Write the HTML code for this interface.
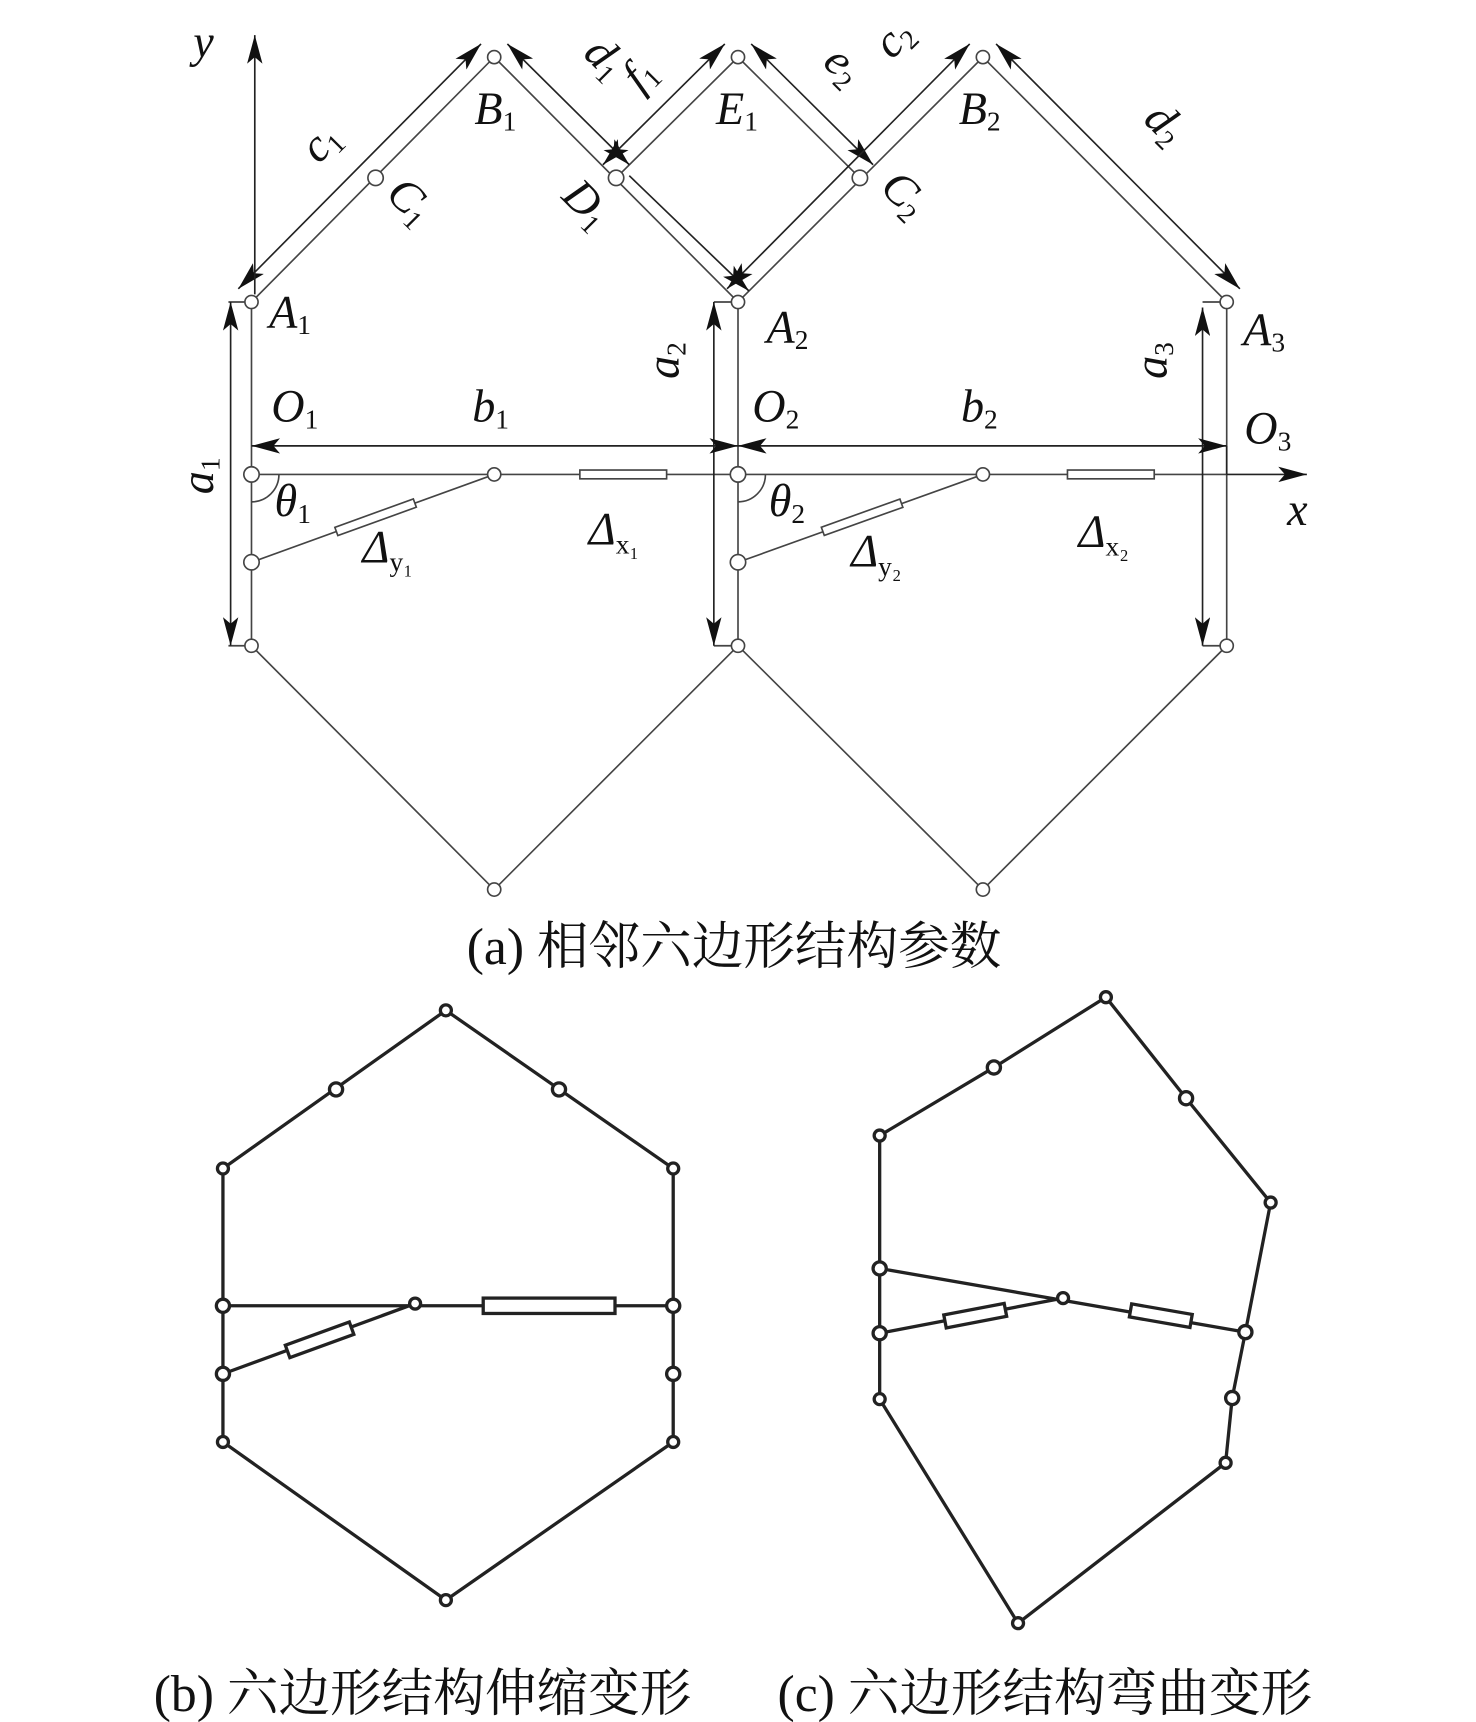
<!DOCTYPE html>
<html><head><meta charset="utf-8"><style>
html,body{margin:0;padding:0;background:#fff}
svg{display:block}
text{font-family:"Liberation Serif","Noto Serif CJK SC",serif;fill:#111}
.it{font-style:italic}
.sub{font-style:normal;font-size:25px}
.cap{font-size:47px}
</style></head><body>
<svg width="1476" height="1722" viewBox="0 0 1344 1568" xmlns="http://www.w3.org/2000/svg">
<defs>
<marker id="ar" viewBox="0 0 26 14" refX="26" refY="7" markerWidth="26" markerHeight="14" markerUnits="userSpaceOnUse" orient="auto-start-reverse">
<path d="M0,0 L26,7 L0,14 L6,7 Z" fill="#111"/></marker>
</defs>
<g fill="none" stroke="#444" stroke-width="1.5">
<polyline points="229,275 450,52 672,275 895,52 1117,275"/>
<polyline points="561,162 672,52 783,162"/>
<line x1="229" y1="275" x2="229" y2="588"/>
<line x1="672" y1="275" x2="672" y2="588"/>
<line x1="1117" y1="275" x2="1117" y2="588"/>
<polyline points="229,588 450,810 672,588 895,810 1117,588"/>
<line x1="229" y1="432" x2="528" y2="432"/>
<line x1="607" y1="432" x2="972" y2="432"/>
<line x1="1051" y1="432" x2="1117" y2="432"/>
<rect x="528" y="428" width="79" height="8"/>
<rect x="972" y="428" width="79" height="8"/>
<line x1="229" y1="512" x2="450" y2="432"/>
<line x1="672" y1="512" x2="895" y2="432"/>
<line x1="208" y1="275" x2="229" y2="275"/><line x1="208" y1="588" x2="229" y2="588"/>
<line x1="650" y1="275" x2="672" y2="275"/><line x1="650" y1="588" x2="672" y2="588"/>
<line x1="1095" y1="275" x2="1117" y2="275"/><line x1="1095" y1="588" x2="1117" y2="588"/>
<path d="M229,432 m0,25 a25,25 0 0 0 25,-25"/>
<path d="M672,432 m0,25 a25,25 0 0 0 25,-25"/>
</g>
<g fill="#fff" stroke="#444" stroke-width="1.5">
<rect x="-38" y="-4" width="76" height="8" transform="translate(342,471) rotate(-19.9)"/>
<rect x="-38" y="-4" width="76" height="8" transform="translate(785,471) rotate(-19.7)"/>
</g>
<g stroke="#222" stroke-width="1.5" fill="none">
<line x1="217" y1="263" x2="438" y2="40" marker-start="url(#ar)" marker-end="url(#ar)"/>
<line x1="462" y1="40" x2="573" y2="150" marker-start="url(#ar)" marker-end="url(#ar)"/>
<line x1="549" y1="150" x2="660" y2="40" marker-start="url(#ar)" marker-end="url(#ar)"/>
<line x1="684" y1="40" x2="795" y2="150" marker-start="url(#ar)" marker-end="url(#ar)"/>
<line x1="662" y1="263" x2="883" y2="40" marker-start="url(#ar)" marker-end="url(#ar)"/>
<line x1="573" y1="160" x2="682" y2="265" marker-end="url(#ar)"/>
<line x1="907" y1="40" x2="1129" y2="263" marker-start="url(#ar)" marker-end="url(#ar)"/>
<line x1="210" y1="275" x2="210" y2="588" marker-start="url(#ar)" marker-end="url(#ar)"/>
<line x1="650" y1="275" x2="650" y2="588" marker-start="url(#ar)" marker-end="url(#ar)"/>
<line x1="1095" y1="280" x2="1095" y2="588" marker-start="url(#ar)" marker-end="url(#ar)"/>
<line x1="229" y1="406" x2="672" y2="406" marker-start="url(#ar)" marker-end="url(#ar)"/>
<line x1="672" y1="406" x2="1117" y2="406" marker-start="url(#ar)" marker-end="url(#ar)"/>
<line x1="1117" y1="406" x2="1117" y2="432"/>
<line x1="1117" y1="432" x2="1190" y2="432" marker-end="url(#ar)"/>
<line x1="232" y1="268" x2="232" y2="32" marker-end="url(#ar)"/>
</g>
<g fill="#fff" stroke="#444" stroke-width="1.5">
<circle cx="229" cy="275" r="6"/><circle cx="672" cy="275" r="6"/><circle cx="1117" cy="275" r="6"/>
<circle cx="450" cy="52" r="6"/><circle cx="672" cy="52" r="6"/><circle cx="895" cy="52" r="6"/>
<circle cx="342" cy="162" r="7"/><circle cx="561" cy="162" r="7"/><circle cx="783" cy="162" r="7"/>
<circle cx="229" cy="432" r="7"/><circle cx="450" cy="432" r="6"/><circle cx="229" cy="512" r="7"/>
<circle cx="672" cy="432" r="7"/><circle cx="895" cy="432" r="6"/><circle cx="672" cy="512" r="7"/>
<circle cx="229" cy="588" r="6"/><circle cx="672" cy="588" r="6"/><circle cx="1117" cy="588" r="6"/>
<circle cx="450" cy="810" r="6"/><circle cx="895" cy="810" r="6"/>
</g>
<g font-size="42">
<text class="it" x="176" y="52">y</text>
<text class="it" x="432" y="113">B<tspan class="sub" dy="6">1</tspan></text>
<text class="it" x="652" y="113">E<tspan class="sub" dy="6">1</tspan></text>
<text class="it" x="873" y="113">B<tspan class="sub" dy="6">2</tspan></text>
<text class="it" transform="translate(290,150) rotate(-45)">c<tspan class="sub" dy="6">1</tspan></text>
<text class="it" transform="translate(350,178) rotate(45)">C<tspan class="sub" dy="6">1</tspan></text>
<text class="it" transform="translate(510,180) rotate(45)">D<tspan class="sub" dy="6">1</tspan></text>
<text class="it" transform="translate(530,50) rotate(45)">d<tspan class="sub" dy="6">1</tspan></text>
<text class="it" transform="translate(583,85) rotate(-45)">f<tspan class="sub" dy="6">1</tspan></text>
<text class="it" transform="translate(748,58) rotate(45)">e<tspan class="sub" dy="6">2</tspan></text>
<text class="it" transform="translate(812,55) rotate(-45)">c<tspan class="sub" dy="6">2</tspan></text>
<text class="it" transform="translate(800,172) rotate(45)">C<tspan class="sub" dy="6">2</tspan></text>
<text class="it" transform="translate(1040,110) rotate(45)">d<tspan class="sub" dy="6">2</tspan></text>
<text class="it" x="245" y="298">A<tspan class="sub" dy="6">1</tspan></text>
<text class="it" x="698" y="312">A<tspan class="sub" dy="6">2</tspan></text>
<text class="it" x="1132" y="314">A<tspan class="sub" dy="6">3</tspan></text>
<text class="it" transform="translate(618,345) rotate(-90)">a<tspan class="sub" dy="6">2</tspan></text>
<text class="it" transform="translate(1062,345) rotate(-90)">a<tspan class="sub" dy="6">3</tspan></text>
<text class="it" transform="translate(194,450) rotate(-90)">a<tspan class="sub" dy="6">1</tspan></text>
<text class="it" x="247" y="384">O<tspan class="sub" dy="6">1</tspan></text>
<text class="it" x="430" y="384">b<tspan class="sub" dy="6">1</tspan></text>
<text class="it" x="685" y="384">O<tspan class="sub" dy="6">2</tspan></text>
<text class="it" x="875" y="384">b<tspan class="sub" dy="6">2</tspan></text>
<text class="it" x="1133" y="404">O<tspan class="sub" dy="6">3</tspan></text>
<text class="it" x="1172" y="478">x</text>
<text class="it" x="250" y="470">θ<tspan class="sub" dy="6">1</tspan></text>
<text class="it" x="700" y="470">θ<tspan class="sub" dy="6">2</tspan></text>
<text class="it" x="330" y="512">Δ<tspan class="sub" font-size="20" dy="8">y₁</tspan></text>
<text class="it" x="536" y="496">Δ<tspan class="sub" font-size="20" dy="8">x₁</tspan></text>
<text class="it" x="775" y="516">Δ<tspan class="sub" font-size="20" dy="8">y₂</tspan></text>
<text class="it" x="982" y="498">Δ<tspan class="sub" font-size="20" dy="8">x₂</tspan></text>
</g>
<text class="cap" x="425" y="878">(a) 相邻六边形结构参数</text>
<text class="cap" x="140" y="1558">(b) 六边形结构伸缩变形</text>
<text class="cap" x="708" y="1558">(c) 六边形结构弯曲变形</text>
<g fill="none" stroke="#222" stroke-width="3">
<polygon points="406,920 613,1064 613,1313 406,1457 203,1313 203,1064"/>
<line x1="203" y1="1189" x2="440" y2="1189"/>
<line x1="560" y1="1189" x2="613" y2="1189"/>
<line x1="203" y1="1251" x2="378" y2="1187"/>
</g>
<g fill="#fff" stroke="#222" stroke-width="3">
<rect x="440" y="1182" width="120" height="14"/>
<rect x="-31" y="-6" width="62" height="12" transform="translate(291,1220) rotate(-20)"/>
<circle cx="406" cy="920" r="5"/><circle cx="306" cy="992" r="6"/><circle cx="509" cy="992" r="6"/>
<circle cx="203" cy="1064" r="5"/><circle cx="613" cy="1064" r="5"/>
<circle cx="203" cy="1189" r="6"/><circle cx="613" cy="1189" r="6"/>
<circle cx="203" cy="1251" r="6"/><circle cx="613" cy="1251" r="6"/>
<circle cx="203" cy="1313" r="5"/><circle cx="613" cy="1313" r="5"/>
<circle cx="406" cy="1457" r="5"/><circle cx="378" cy="1187" r="5"/>
</g>
<g fill="none" stroke="#222" stroke-width="3">
<polygon points="1007,908 1080,1000 1157,1095 1134,1213 1122,1273 1116,1332 927,1478 801,1274 801,1034 905,972"/>
<line x1="801" y1="1155" x2="1134" y2="1213"/>
<line x1="801" y1="1214" x2="968" y2="1182"/>
</g>
<g fill="#fff" stroke="#222" stroke-width="3">
<rect x="-28" y="-6" width="56" height="12" transform="translate(1057,1198) rotate(9.9)"/>
<rect x="-28" y="-6" width="56" height="12" transform="translate(888,1198) rotate(-10.8)"/>
<circle cx="1007" cy="908" r="5"/><circle cx="905" cy="972" r="6"/><circle cx="1080" cy="1000" r="6"/>
<circle cx="801" cy="1034" r="5"/><circle cx="1157" cy="1095" r="5"/>
<circle cx="801" cy="1155" r="6"/><circle cx="1134" cy="1213" r="6"/>
<circle cx="801" cy="1214" r="6"/><circle cx="1122" cy="1273" r="6"/>
<circle cx="801" cy="1274" r="5"/><circle cx="1116" cy="1332" r="5"/>
<circle cx="927" cy="1478" r="5"/><circle cx="968" cy="1182" r="5"/>
</g>
</svg>
</body></html>
